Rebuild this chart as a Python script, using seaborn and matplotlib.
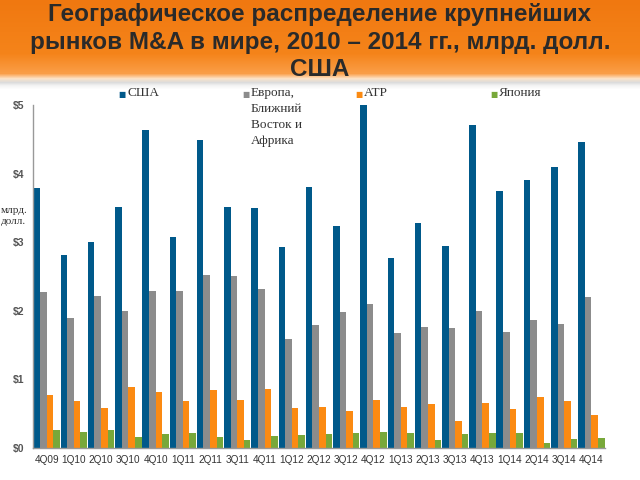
import numpy as np
import pandas as pd
import matplotlib
matplotlib.use("Agg")
import matplotlib.pyplot as plt
import seaborn as sns
from matplotlib.colors import LinearSegmentedColormap

quarters = ["4Q09", "1Q10", "2Q10", "3Q10", "4Q10", "1Q11", "2Q11", "3Q11", "4Q11",
            "1Q12", "2Q12", "3Q12", "4Q12", "1Q13", "2Q13", "3Q13", "4Q13",
            "1Q14", "2Q14", "3Q14", "4Q14"]
usa = [3.79, 2.81, 3.00, 3.51, 4.64, 3.08, 4.49, 3.51, 3.50, 2.93, 3.80, 3.24, 5.01,
       2.77, 3.28, 2.94, 4.71, 3.75, 3.91, 4.10, 4.46]
europe = [2.27, 1.90, 2.22, 2.00, 2.29, 2.29, 2.52, 2.51, 2.32, 1.59, 1.79, 1.98, 2.10,
          1.68, 1.76, 1.75, 2.00, 1.69, 1.87, 1.81, 2.20]
apac = [0.77, 0.69, 0.58, 0.89, 0.82, 0.69, 0.85, 0.70, 0.86, 0.58, 0.60, 0.54, 0.70,
        0.60, 0.64, 0.39, 0.66, 0.57, 0.74, 0.69, 0.48]
japan = [0.26, 0.24, 0.26, 0.16, 0.20, 0.22, 0.16, 0.12, 0.17, 0.19, 0.21, 0.22, 0.23,
         0.22, 0.12, 0.20, 0.22, 0.22, 0.07, 0.13, 0.14]
series_names = ["США", "Европа,\nБлижний\nВосток и\nАфрика", "АТР", "Япония"]
colors = ["#00598a", "#8c8c8c", "#fb8a12", "#78a83a"]
ytick_vals = [0, 1, 2, 3, 4, 5]
ytick_labels = ["$0", "$1", "$2", "$3", "$4", "$5"]
title = "Географическое распределение крупнейших\nрынков M&A в мире, 2010 – 2014 гг., млрд. долл.\nСША"

rows = []
for name, vals in zip(series_names, [usa, europe, apac, japan]):
    for q, v in zip(quarters, vals):
        rows.append({"quarter": q, "region": name, "value": v})
df = pd.DataFrame(rows)

sns.set_theme(style="white")
plt.rcParams["font.family"] = ["Liberation Sans", "DejaVu Sans"]

fig = plt.figure(figsize=(6.4, 4.8), dpi=100)
fig.patch.set_facecolor("white")

# orange header band
bg = fig.add_axes([0, 1 - 90 / 480, 1, 90 / 480], zorder=0)
grad = np.linspace(0, 1, 90)
cmap = LinearSegmentedColormap.from_list(
    "hdr", [(0, "#f07810"), (0.6, "#f5841a"), (0.82, "#fa9e48"),
            (0.88, "#fde3c8"), (0.92, "#dcdcdc"), (0.96, "#f4f4f4"), (1.0, "#ffffff")])
bg.imshow(grad[:, None], aspect="auto", cmap=cmap, extent=[0, 1, 0, 1], origin="upper")
bg.set_axis_off()

fig.text(0.50, 1 - 42 / 480, title, ha="center", va="center", fontsize=17.5,
         fontweight="bold", color="#2a2a2a", linespacing=1.25,
         family=["Liberation Sans", "DejaVu Sans"])

ax = fig.add_axes([33 / 640, 1 - 448 / 480, 572 / 640, 343 / 480], zorder=2)
ax.patch.set_alpha(0)
sns.barplot(data=df, x="quarter", y="value", hue="region", palette=colors,
            saturation=1, width=0.97, legend=False, ax=ax, linewidth=0,
            edgecolor="none")

ax.set_xlim(-0.5, len(quarters) - 0.5)
ax.set_ylim(0, 5)
ax.set_yticks(ytick_vals)
ax.set_yticklabels(ytick_labels, fontsize=7.5, color="#555555", fontweight="bold")
ax.tick_params(axis="y", length=0, pad=6)
ax.tick_params(axis="x", length=0, labelsize=7.2, labelcolor="#333333", pad=5)
ax.set_xticks(np.arange(-0.5, len(quarters), 1.0), minor=True)
ax.tick_params(axis="x", which="minor", length=3, color="#aaaaaa", width=0.8)
ax.set_xlabel("")
ax.set_ylabel("")
for s in ["top", "right"]:
    ax.spines[s].set_visible(False)
for s in ["left", "bottom"]:
    ax.spines[s].set_color("#999999")
    ax.spines[s].set_linewidth(1.0)

# y-axis unit label
fig.text(0.001, 1 - 216 / 480, "млрд.\nдолл.", ha="left", va="center",
         fontsize=8, color="#333333", family=["Liberation Serif", "DejaVu Serif"],
         linespacing=1.3)

# legend
leg_x = [118, 242, 355, 490]
for x, name, c in zip(leg_x, series_names, colors):
    fig.text(x / 640, 1 - 95 / 480, "■", ha="left", va="center", fontsize=5.5,
             color=c, family=["DejaVu Sans"])
    fig.text((x + 9) / 640, 1 - 87 / 480, name, ha="left", va="top", fontsize=9.5,
             color="#333333", family=["Liberation Serif", "DejaVu Serif"],
             linespacing=1.45)

fig.savefig("out.png", dpi=100)
